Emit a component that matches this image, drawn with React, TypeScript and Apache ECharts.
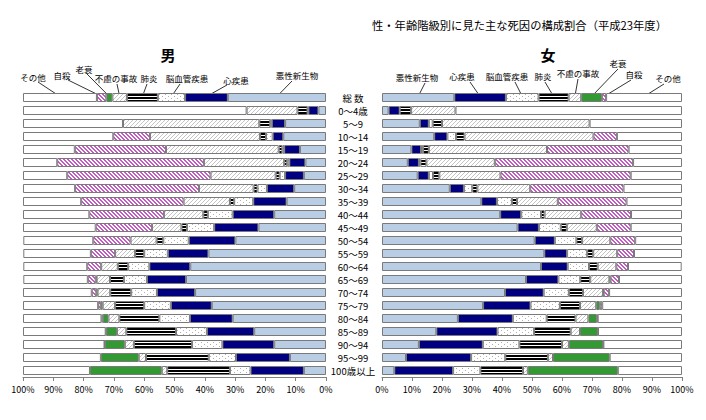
import React, { useEffect, useRef } from 'react';
import * as echarts from 'echarts';

const categories = ['総 数', '0～4歳', '5～9', '10～14', '15～19', '20～24', '25～29', '30～34', '35～39', '40～44', '45～49', '50～54', '55～59', '60～64', '65～69', '70～74', '75～79', '80～84', '85～89', '90～94', '95～99', '100歳以上'];
const causes = ['悪性新生物', '心疾患', '脳血管疾患', '肺炎', '不慮の事故', '老衰', '自殺', 'その他'];
const tickValues = [0, 10, 20, 30, 40, 50, 60, 70, 80, 90, 100];

// male (%)
const maleCancer = [32.4, 2.5, 13.5, 14.1, 8.6, 6.8, 7.3, 10.5, 13.0, 17.1, 22.3, 29.9, 38.8, 44.8, 46.2, 43.2, 37.7, 30.8, 23.7, 17.1, 11.9, 7.3];
const maleHeart = [14.1, 3.3, 4.4, 3.5, 5.2, 5.3, 6.2, 9.0, 11.0, 13.7, 14.6, 15.4, 13.4, 13.5, 12.9, 12.6, 13.5, 14.1, 15.6, 17.1, 17.8, 17.6];
const maleStroke = [9.0, 0.3, 0.5, 2.2, 0.6, 0.7, 1.8, 3.1, 6.3, 8.2, 9.0, 8.4, 7.8, 7.0, 7.6, 8.5, 8.8, 10.1, 10.2, 10.0, 9.0, 6.8];
const malePneumonia = [10.2, 3.3, 3.6, 2.0, 1.2, 1.0, 1.3, 1.3, 1.4, 1.5, 1.8, 2.2, 3.0, 3.4, 4.6, 6.9, 9.6, 13.2, 16.4, 19.2, 20.7, 20.7];
const maleAccident = [4.8, 16.8, 45.0, 36.3, 37.2, 26.5, 21.5, 18.0, 15.3, 13.0, 9.7, 8.6, 6.6, 5.5, 4.4, 4.2, 4.1, 3.6, 3.1, 3.0, 2.4, 1.8];
const maleSenility = [2.0, 0, 0, 0, 0, 0, 0, 0, 0, 0, 0, 0, 0, 0, 0.3, 0.4, 0.6, 1.9, 3.5, 6.6, 12.5, 23.7];
const maleSuicide = [3.1, 0, 0, 12.1, 30.1, 48.4, 47.3, 40.9, 33.8, 24.6, 18.6, 12.3, 8.0, 4.6, 2.6, 1.5, 0.9, 0.4, 0.2, 0.1, 0, 0];
const maleOther = [24.4, 73.8, 33.0, 29.8, 17.1, 11.3, 14.6, 17.2, 19.2, 21.9, 24.0, 23.1, 22.3, 21.1, 21.3, 22.7, 24.8, 25.9, 27.3, 26.9, 25.7, 22.1];

// female (%)
const femaleCancer = [24.1, 2.2, 12.6, 17.4, 9.8, 8.6, 11.9, 22.6, 33.1, 39.4, 45.2, 50.9, 54.1, 53.0, 48.0, 41.0, 33.7, 25.3, 18.1, 12.3, 8.0, 4.1];
const femaleHeart = [17.2, 3.7, 3.0, 4.4, 3.2, 3.7, 3.7, 4.7, 5.2, 7.0, 7.1, 6.7, 7.6, 8.9, 10.8, 12.9, 15.8, 18.3, 20.4, 21.3, 21.7, 19.6];
const femaleStroke = [10.9, 0, 1.3, 2.9, 0.7, 0.5, 1.4, 2.8, 5.0, 6.6, 7.3, 7.2, 6.7, 7.1, 7.3, 8.4, 9.8, 11.3, 12.2, 12.2, 11.4, 9.1];
const femalePneumonia = [10.0, 3.8, 3.1, 2.8, 1.9, 2.0, 2.1, 1.7, 1.7, 1.2, 2.0, 1.9, 2.0, 2.9, 3.3, 4.7, 6.7, 9.6, 12.2, 14.2, 14.2, 14.2];
const femaleAccident = [4.2, 14.8, 49.2, 43.0, 39.4, 22.8, 20.4, 17.6, 13.6, 12.2, 10.0, 9.4, 8.0, 6.2, 6.4, 6.7, 5.4, 4.3, 3.1, 2.3, 1.7, 1.6];
const femaleSenility = [6.9, 0, 0, 0, 0, 0, 0, 0, 0, 0, 0, 0, 0, 0, 0.4, 0.2, 1.2, 2.8, 5.9, 11.4, 18.9, 30.0];
const femaleSuicide = [1.4, 0, 0, 7.8, 27.2, 46.1, 43.4, 31.1, 22.9, 16.6, 11.3, 8.3, 5.6, 3.9, 2.8, 1.8, 0.8, 0.3, 0.1, 0.1, 0, 0];
const femaleOther = [25.3, 75.5, 30.8, 21.7, 17.8, 16.3, 17.1, 19.5, 18.5, 17.0, 17.1, 15.6, 16.0, 17.9, 21.0, 24.3, 26.6, 28.1, 28.0, 26.2, 24.1, 21.4];

const maleSeries = [maleCancer, maleHeart, maleStroke, malePneumonia, maleAccident, maleSenility, maleSuicide, maleOther];
const femaleSeries = [femaleCancer, femaleHeart, femaleStroke, femalePneumonia, femaleAccident, femaleSenility, femaleSuicide, femaleOther];

const FONT = '"Noto Sans CJK JP", "Noto Sans", sans-serif';

function pattern(w: number, h: number, bg: string, fg: string, on: (x: number, y: number) => boolean) {
  const c = document.createElement('canvas');
  c.width = w;
  c.height = h;
  const ctx = c.getContext('2d')!;
  ctx.fillStyle = bg;
  ctx.fillRect(0, 0, w, h);
  ctx.fillStyle = fg;
  for (let y = 0; y < h; y++) for (let x = 0; x < w; x++) if (on(x, y)) ctx.fillRect(x, y, 1, 1);
  return { image: c, repeat: 'repeat' } as any;
}

function makeColors() {
  return [
    '#B9CDE5',
    '#000080',
    pattern(6, 4, '#ffffff', '#b0b0b0', (x, y) => (x === 0 && y === 0) || (x === 3 && y === 2)),
    pattern(4, 3, '#ffffff', '#000000', (x, y) => y !== 0),
    pattern(4, 4, '#ffffff', '#c4c4c4', (x, y) => (x + y) % 4 === 0),
    '#339933',
    pattern(4, 4, '#ffffff', '#c45ac4', (x, y) => ((x - y + 8) % 4) < 2),
    '#ffffff',
  ];
}

// annotation label positions: [textX, textY, lineStartX, lineStartY]
const maleLabelPos = [
  [297, 75, 292, 81],
  [236, 80, 227, 85],
  [187, 78, 180, 84],
  [149, 78, 147, 84],
  [116, 78, 117, 84],
  [84, 69, 87, 74],
  [62, 75, 68, 80],
  [33, 77, 38, 82],
];
const femaleLabelPos = [
  [417, 77, 425, 83],
  [462, 76, 470, 82],
  [507, 76, 515, 82],
  [543, 76, 545, 82],
  [578, 73, 578, 79],
  [618, 63, 618, 69],
  [634, 74, 631, 80],
  [668, 78, 664, 84],
];

export default function App() {
  const ref = useRef<HTMLDivElement>(null);
  useEffect(() => {
    if (!ref.current) return;
    const chart = echarts.init(ref.current, null, { renderer: 'svg' });
    const colors = makeColors();
    const mkSeries = (data: number[][], idx: number, stack: string) =>
      data.map((arr, i) => ({
        type: 'bar',
        name: causes[i],
        stack,
        xAxisIndex: idx,
        yAxisIndex: idx,
        barWidth: 9,
        data: arr.map((v) => (v === 0 ? '-' : v)),
        itemStyle: { color: colors[i], borderColor: '#7a7a7a', borderWidth: 1 },
        emphasis: { disabled: true },
      }));

    const xAxisCommon = {
      type: 'value',
      min: 0,
      max: 100,
      interval: 10,
      splitLine: { show: false },
      axisLine: { show: true, lineStyle: { color: '#808080' } },
      axisTick: { show: true, length: 4, lineStyle: { color: '#808080' } },
      axisLabel: { formatter: '{value}%', fontSize: 9, color: '#000', margin: 8, fontFamily: FONT },
    };
    const yAxisCommon = {
      type: 'category',
      data: categories,
      inverse: true,
      axisLine: { show: false },
      axisTick: { show: false },
      splitLine: { show: false },
    };

    chart.setOption({
      animation: false,
      textStyle: { fontFamily: FONT },
      grid: [
        { left: 23, top: 91, width: 303, height: 286 },
        { left: 382, top: 91, width: 300, height: 286 },
      ],
      xAxis: [
        { ...xAxisCommon, gridIndex: 0, inverse: true },
        { ...xAxisCommon, gridIndex: 1 },
      ],
      yAxis: [
        { ...yAxisCommon, gridIndex: 0, axisLabel: { show: false } },
        { ...yAxisCommon, gridIndex: 1, axisLabel: { show: true, align: 'center', margin: 29, fontSize: 9.5, lineHeight: 11, color: '#000', fontFamily: FONT } },
      ],
      series: [...mkSeries(maleSeries, 0, 'm'), ...mkSeries(femaleSeries, 1, 'f')],
    });

    const txt = (x: number, y: number, text: string, size: number, weight = 'normal', align = 'center') => ({
      type: 'text',
      x,
      y,
      silent: true,
      style: { text, fill: '#000', fontSize: size, fontWeight: weight, fontFamily: FONT, align, verticalAlign: 'middle', textAlign: align, textVerticalAlign: 'middle' },
    });

    const graphics: any[] = [
      txt(372, 25, '性・年齢階級別に見た主な死因の構成割合（平成23年度）', 11.3, 'normal', 'left'),
      txt(168, 54, '男', 15, 'bold'),
      txt(548, 54, '女', 15, 'bold'),
    ];
    const addAnno = (series: number[][], pos: number[][], gridIndex: number) => {
      let cum = 0;
      series.forEach((arr, i) => {
        const v = arr[0];
        const mid = cum + v / 2;
        cum += v;
        const p = chart.convertToPixel({ gridIndex } as any, [mid, 0]) as number[];
        const [tx, ty, sx, sy] = pos[i];
        graphics.push(txt(tx, ty, causes[i], 8.5));
        graphics.push({
          type: 'line',
          silent: true,
          shape: { x1: sx, y1: sy, x2: p[0], y2: p[1] - 1 },
          style: { stroke: '#000', lineWidth: 0.8 },
        });
      });
    };
    addAnno(maleSeries, maleLabelPos, 0);
    addAnno(femaleSeries, femaleLabelPos, 1);
    chart.setOption({ graphic: graphics });

    return () => chart.dispose();
  }, []);
  return <div ref={ref} style={{ position: 'fixed', left: 0, top: 0, width: 706, height: 420, background: '#fff' }} />;
}
